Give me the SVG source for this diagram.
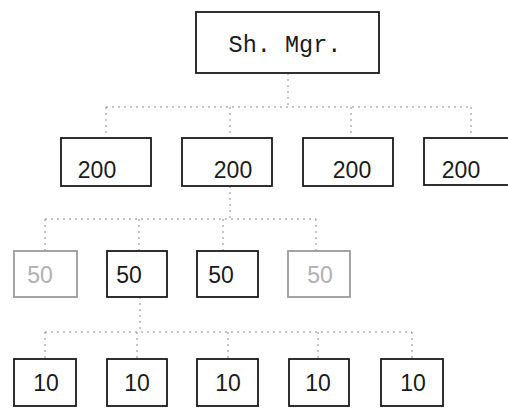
<svg xmlns="http://www.w3.org/2000/svg" width="508" height="410" viewBox="0 0 508 410">
  <style>
    .box { fill: #ffffff; stroke: #1a1a1a; stroke-width: 1.8; }
    .faint { stroke: #9a9a9a; }
    .lbl { font-family: "Liberation Sans", Arial, sans-serif; font-size: 23px; fill: #1a1a1a; text-anchor: middle; }
    .mono { font-family: "Liberation Mono", "Courier New", monospace; font-size: 23.5px; }
    .fadetxt { fill: #b0b0b0; }
    .conn { fill: none; stroke: #8a8a8a; stroke-width: 1; stroke-dasharray: 2 4; }
  </style>
  <rect width="508" height="410" fill="#ffffff"/>

  <!-- reporting lines -->
  <g id="connectors">
    <path class="conn" d="M288 73 V107"/>
    <path class="conn" d="M106 107 H471"/>
    <path class="conn" d="M106 107 V138 M230 107 V138 M351 107 V138 M471 107 V138"/>
    <path class="conn" d="M230 186 V219"/>
    <path class="conn" d="M45 219 H316"/>
    <path class="conn" d="M45 219 V251 M139 219 V251 M223 219 V251 M316 219 V251"/>
    <path class="conn" d="M140 297 V332"/>
    <path class="conn" d="M45 332 H412"/>
    <path class="conn" d="M45 332 V359 M137 332 V359 M228 332 V359 M318 332 V359 M412 332 V359"/>
  </g>

  <g id="mgr">
    <rect class="box" x="196" y="12" width="183" height="61"/>
    <text class="lbl mono" x="285" y="52">Sh. Mgr.</text>
  </g>

  <g id="n200a"><rect class="box" x="61" y="138" width="90" height="48"/><text class="lbl" x="97" y="178">200</text></g>
  <g id="n200b"><rect class="box" x="182" y="138" width="90" height="48"/><text class="lbl" x="233" y="178">200</text></g>
  <g id="n200c"><rect class="box" x="303" y="138" width="90" height="48"/><text class="lbl" x="352" y="178">200</text></g>
  <g id="n200d"><rect class="box" x="424" y="138" width="90" height="47"/><text class="lbl" x="461" y="178">200</text></g>

  <g id="n50a"><rect class="box faint" x="14" y="251" width="63" height="46"/><text class="lbl fadetxt" x="40" y="283">50</text></g>
  <g id="n50b"><rect class="box" x="107" y="251" width="60" height="46"/><text class="lbl" x="129" y="283">50</text></g>
  <g id="n50c"><rect class="box" x="197" y="251" width="61" height="46"/><text class="lbl" x="221" y="283">50</text></g>
  <g id="n50d"><rect class="box faint" x="288" y="251" width="62" height="46"/><text class="lbl fadetxt" x="320" y="283">50</text></g>

  <g id="n10a"><rect class="box" x="14" y="359" width="62" height="47"/><text class="lbl" x="46" y="391">10</text></g>
  <g id="n10b"><rect class="box" x="107" y="359" width="60" height="47"/><text class="lbl" x="137" y="391">10</text></g>
  <g id="n10c"><rect class="box" x="197" y="359" width="61" height="47"/><text class="lbl" x="228" y="391">10</text></g>
  <g id="n10d"><rect class="box" x="289" y="359" width="60" height="47"/><text class="lbl" x="318" y="391">10</text></g>
  <g id="n10e"><rect class="box" x="381" y="359" width="62" height="47"/><text class="lbl" x="413" y="391">10</text></g>
</svg>
